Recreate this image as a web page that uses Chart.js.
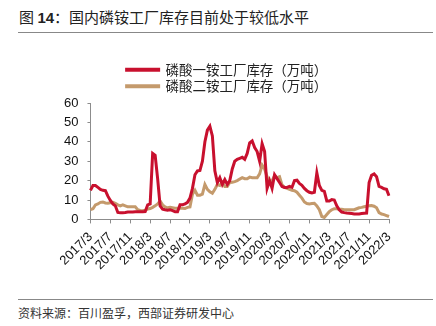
<!DOCTYPE html>
<html>
<head>
<meta charset="utf-8">
<script src="https://cdn.jsdelivr.net/npm/chart.js@4/dist/chart.umd.min.js"></script>
<style>
  html, body { margin: 0; padding: 0; background: #fff; overflow: hidden; }
  body { width: 436px; height: 326px; position: relative; font-family: "Noto Sans CJK SC", sans-serif; }
  #title { position: absolute; left: 19px; top: 7px; font-size: 15px; line-height: 20px; color: #222; white-space: nowrap; }
  #title b { font-family: "Liberation Sans", Arial, sans-serif; font-weight: bold; }
  .rule { position: absolute; left: 18px; width: 415px; height: 0; border-top: 1px solid #888; }
  #source { position: absolute; left: 18px; top: 305px; font-size: 12px; line-height: 16px; color: #333; white-space: nowrap; }
  #wrap { position: absolute; left: 0; top: 40px; width: 436px; height: 239px; }
</style>
</head>
<body>
<div id="title">图 <b>14</b>：国内磷铵工厂库存目前处于较低水平</div>
<div class="rule" style="top:32px"></div>
<div id="wrap"><canvas id="chart"></canvas></div>
<div class="rule" style="top:299px"></div>
<div id="source">资料来源：百川盈孚，西部证券研发中心</div>
<script>
// tick labels shown on the x axis, every 4 months
const xTickLabels = [
  "2017/3", "2017/7", "2017/11", "2018/3", "2018/7", "2018/11",
  "2019/3", "2019/7", "2019/11", "2020/3", "2020/7", "2020/11",
  "2021/3", "2021/7", "2021/11", "2022/3",
];

// half-month categories from 2017/3 to 2022/3
const categories = [];
for (let y = 2017, m = 3; y < 2022 || (y === 2022 && m <= 3); ) {
  categories.push(y + "/" + m + "上");
  if (y === 2022 && m === 3) break;
  categories.push(y + "/" + m + "下");
  m++;
  if (m > 12) { m = 1; y++; }
}

// 磷酸一铵工厂库存（万吨）
const mapStock = [
  15, 17.5, 17.5, 16.5, 15.5, 15, 14.8, 12, 9.8, 8, 7, 3.6,
  3.5, 3.5, 3.6, 3.8, 3.8, 3.8, 4, 4, 4, 4, 4.1, 7.5,
  8, 34, 33, 21, 7, 5.3, 5, 4.8, 5, 4.5, 4, 4,
  7.5, 7.5, 8, 8.8, 11, 16, 23, 25, 25.2, 30, 40, 46,
  48, 43, 25, 19, 21.5, 18, 20.5, 18, 20, 26, 30, 31,
  31.5, 32, 31, 34, 39.5, 40.5, 37, 35, 30, 39, 35, 16,
  20, 16, 23, 21, 19, 17, 16.5, 16.5, 17, 16.5, 20, 20.2,
  18.5, 17.6, 16, 14.8, 14, 13.6, 14, 24, 17.5, 15, 14.5, 9.5,
  9.5, 10.2, 10, 7, 5, 3.8, 3.5, 3.3, 3.2, 3, 2.8, 2.8,
  2.8, 3, 3.2, 3.3, 19, 22.8, 23.5, 22, 17, 16.5, 15.8, 15.5,
  12.2,
];

// 磷酸二铵工厂库存（万吨）
const dapStock = [
  5, 5.5, 7.5, 8, 8.8, 9, 8.5, 8.3, 8.6, 8.8, 8.3, 7.5,
  7, 7.5, 7, 6.5, 6.5, 6.5, 6.5, 5, 4.6, 4.5, 4.8, 5.3,
  5.6, 6.2, 7, 8, 9.5, 7.5, 6.5, 6, 6.2, 6, 5.8, 5.8,
  5.8, 5.8, 5.6, 6.2, 6.4, 13, 15, 12.5, 12.5, 13, 18, 15.5,
  14.2, 13.5, 15.5, 18, 17.5, 19, 17, 17, 19, 19.2, 19.5, 20,
  20.8, 21.5, 21, 21, 21.8, 21.5, 21.5, 21.5, 23.5, 28, 26, 22,
  19.5, 20, 22.5, 21.5, 22, 17.8, 16.5, 16, 15.5, 15, 14.8, 14,
  12.5, 11, 9, 8.2, 8, 8.2, 8.3, 7, 5, 1.5, 1, 2.5,
  4, 5, 5.5, 5.5, 5.3, 5.2, 5, 5, 5, 5, 5, 5.5,
  6, 6.2, 6.5, 6.8, 7, 7.2, 6.8, 6, 3.5, 2.8, 2.5, 2,
  1.5,
];

const yMin = 0;
const yMax = 60;
const yStep = 10;

const axisColor = "#8c8c8c";
const tickEvery = 8; // 4 months = 8 half-month categories

const ctx = document.getElementById("chart").getContext("2d");
new Chart(ctx, {
  type: "line",
  data: {
    labels: categories,
    datasets: [
      {
        label: "磷酸一铵工厂库存（万吨）",
        data: mapStock,
        borderColor: "#c8102e",
        backgroundColor: "#c8102e",
        borderWidth: 3,
        pointRadius: 0,
        tension: 0,
      },
      {
        label: "磷酸二铵工厂库存（万吨）",
        data: dapStock,
        borderColor: "#c49a6c",
        backgroundColor: "#c49a6c",
        borderWidth: 3,
        pointRadius: 0,
        tension: 0,
      },
    ],
  },
  options: {
    responsive: true,
    maintainAspectRatio: false,
    animation: false,
    layout: {
      padding: { left: 55, right: 37, top: 20, bottom: 0 },
    },
    scales: {
      x: {
        border: { color: axisColor, width: 1 },
        grid: {
          drawOnChartArea: false,
          tickLength: 4,
          color: (c) => (c.index % tickEvery === 0 ? axisColor : "rgba(0,0,0,0)"),
        },
        ticks: {
          autoSkip: false,
          maxRotation: 45,
          minRotation: 45,
          padding: 6,
          color: "#111",
          font: { family: "Liberation Sans", size: 13 },
          callback: function (value, index) {
            return index % tickEvery === 0 ? xTickLabels[index / tickEvery] : "";
          },
        },
        // plot ends ~10px inside the legend's right edge
        afterFit: function (scale) {
          scale.paddingLeft = 0;
          scale.paddingRight = 47;
        },
      },
      y: {
        min: yMin,
        max: yMax,
        border: { color: axisColor, width: 1 },
        grid: {
          drawOnChartArea: false,
          tickLength: 3,
          color: axisColor,
        },
        ticks: {
          stepSize: yStep,
          padding: 9,
          color: "#111",
          font: { family: "Liberation Sans", size: 13 },
        },
      },
    },
    plugins: {
      legend: {
        position: "top",
        labels: {
          boxWidth: 32,
          boxHeight: 1,
          padding: 3,
          color: "#222",
          font: { family: "Noto Sans CJK SC", size: 13.5 },
        },
      },
      tooltip: { enabled: false },
    },
  },
});
</script>
</body>
</html>
